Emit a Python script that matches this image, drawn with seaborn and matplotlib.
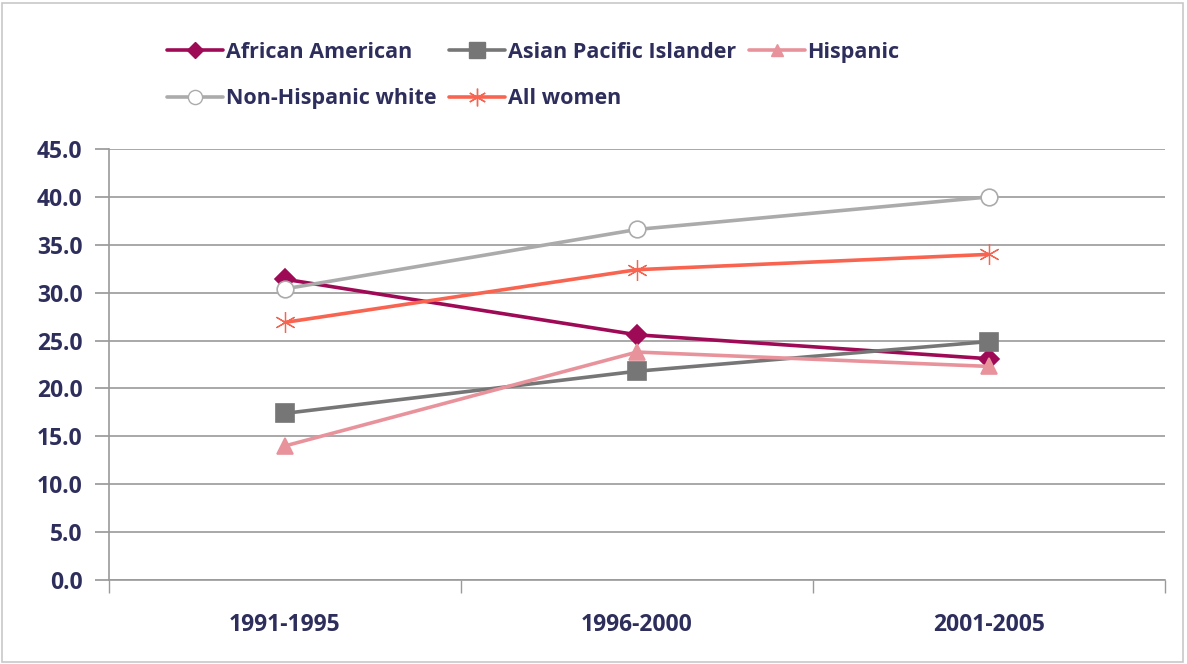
import matplotlib
matplotlib.use("Agg")
import matplotlib.pyplot as plt
import seaborn as sns
import pandas as pd
from matplotlib.lines import Line2D
from matplotlib.patches import Rectangle

periods = ["1991-1995", "1996-2000", "2001-2005"]
african_american = [31.4, 25.6, 23.1]
asian_pacific = [17.4, 21.8, 24.9]
hispanic = [14.0, 23.8, 22.3]
non_hispanic_white = [30.4, 36.6, 40.0]
all_women = [26.9, 32.4, 34.0]
yticks = [0, 5, 10, 15, 20, 25, 30, 35, 40, 45]

series = {
    "African American": african_american,
    "Asian Pacific Islander": asian_pacific,
    "Hispanic": hispanic,
    "Non-Hispanic white": non_hispanic_white,
    "All women": all_women,
}
rows = []
for name, vals in series.items():
    for i, (p, v) in enumerate(zip(periods, vals)):
        rows.append({"group": name, "period": p, "x": i, "value": v})
df = pd.DataFrame(rows)

sns.set_theme(style="white")
plt.rcParams["font.family"] = ["Open Sans", "DejaVu Sans"]
text_color = "#2e2e5c"

colors = {
    "African American": "#9e0a55",
    "Asian Pacific Islander": "#767676",
    "Hispanic": "#e8939c",
    "Non-Hispanic white": "#ababab",
    "All women": "#f86450",
}
markers = {
    "African American": "D",
    "Asian Pacific Islander": "s",
    "Hispanic": "^",
    "Non-Hispanic white": "o",
    "All women": (6, 2, 0),
}
msize = {
    "African American": 10,
    "Asian Pacific Islander": 13,
    "Hispanic": 11,
    "Non-Hispanic white": 12,
    "All women": 15,
}
mfc = {
    "African American": "#9e0a55",
    "Asian Pacific Islander": "#767676",
    "Hispanic": "#e8939c",
    "Non-Hispanic white": "white",
    "All women": "#f86450",
}

fig = plt.figure(figsize=(11.87, 6.64), dpi=100)
ax = fig.add_axes([0.0918, 0.1265, 0.8897, 0.6491])

for name in series:
    sub = df[df.group == name]
    sns.lineplot(data=sub, x="x", y="value", ax=ax, color=colors[name],
                 linewidth=2.6, marker=markers[name], markersize=msize[name],
                 markerfacecolor=mfc[name], markeredgecolor=colors[name],
                 markeredgewidth=1.2 if name != "All women" else 0.9,
                 sort=False, label=name, legend=False)

ax.set_xlim(-0.5, 2.5)
ax.set_ylim(0, 45)
ax.set_yticks(yticks)
ax.set_yticklabels([f"{v:.1f}" for v in yticks], fontsize=16.5, fontweight="bold", color=text_color)
ax.set_xticks(range(len(periods)))
ax.set_xticklabels(periods, fontsize=16.5, fontweight="bold", color=text_color)
ax.set_xticks([-0.5, 0.5, 1.5, 2.5], minor=True)
ax.tick_params(axis="x", which="major", length=0, pad=24)
ax.tick_params(axis="x", which="minor", length=9, color="#9a9a9a", direction="out", bottom=True)
ax.tick_params(axis="y", length=10, color="#9a9a9a", direction="out", left=True, pad=9)
ax.set_xlabel("")
ax.set_ylabel("")
ax.yaxis.grid(True, color="#9a9a9a", linewidth=1.2)
ax.xaxis.grid(False)
for s in ["top", "right"]:
    ax.spines[s].set_visible(False)
for s in ["left", "bottom"]:
    ax.spines[s].set_color("#9a9a9a")
    ax.spines[s].set_linewidth(1.2)
ax.set_axisbelow(True)

order = ["African American", "Non-Hispanic white", "Asian Pacific Islander", "All women", "Hispanic"]
handles = [Line2D([0], [0], color=colors[n], linewidth=2.6, marker=markers[n],
                  markersize=msize[n] * 0.85, markerfacecolor=mfc[n],
                  markeredgecolor=colors[n]) for n in order]
leg = fig.legend(handles, order, loc="upper left", bbox_to_anchor=(0.128, 0.96), ncol=3,
                 frameon=False, handlelength=2.6, handletextpad=0.12, columnspacing=0.6,
                 labelspacing=1.2, borderpad=0.2, prop={"size": 15.5, "weight": "bold"})
for t in leg.get_texts():
    t.set_color(text_color)

fig.patches.append(Rectangle((0.002, 0.003), 0.995, 0.992, transform=fig.transFigure,
                             fill=False, edgecolor="#c8c8c8", linewidth=1.2))

fig.savefig("out.png", dpi=100)
